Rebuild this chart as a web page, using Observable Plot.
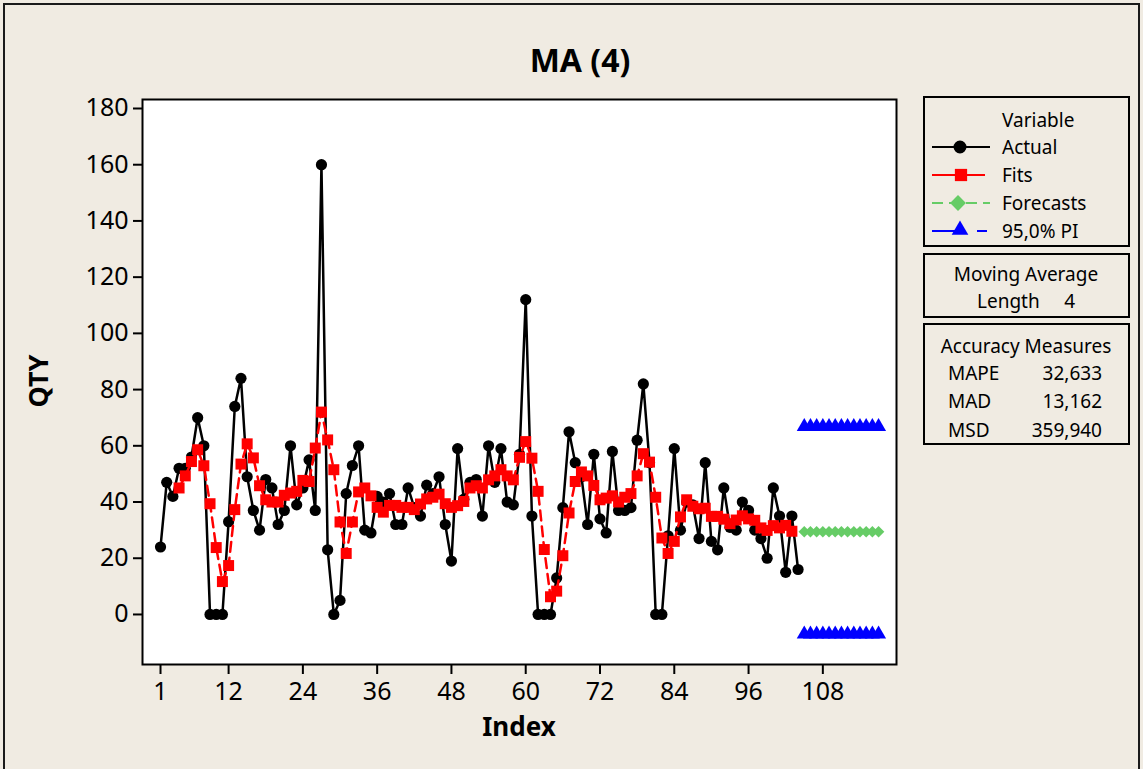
<!DOCTYPE html>
<html>
<head>
<meta charset="utf-8">
<script src="https://cdn.jsdelivr.net/npm/d3@7"></script>
<script src="https://cdn.jsdelivr.net/npm/@observablehq/plot@0.6"></script>
<style>
  html, body { margin: 0; padding: 0; }
  body { width: 1143px; height: 769px; background: #F0EBE2; position: relative; overflow: hidden; font-family: "Noto Sans", "Liberation Sans", sans-serif; }
  #chart { position: absolute; left: 0; top: 0; }
  #overlay { position: absolute; left: 0; top: 0; pointer-events: none; }
</style>
</head>
<body>
<div id="chart"></div>
<svg id="overlay" width="1143" height="769"></svg>
<script>
// ---- data ----
const actual = [
  24, 47, 42, 52, 52, 56, 70, 60, 0, 0,
  0, 33, 74, 84, 49, 37, 30, 48, 45, 32,
  37, 60, 39, 45, 55, 37, 160, 23, 0, 5,
  43, 53, 60, 30, 29, 42, 40, 43, 32, 32,
  45, 38, 35, 46, 43, 49, 32, 19, 59, 41,
  47, 48, 35, 60, 47, 59, 40, 39, 57, 112,
  35, 0, 0, 0, 13, 38, 65, 54, 49, 32,
  57, 34, 29, 58, 37, 37, 38, 62, 82, 54,
  0, 0, 28, 59, 30, 40, 39, 27, 54, 26,
  23, 45, 31, 30, 40, 37, 30, 27, 20, 45,
  35, 15, 35, 16
];
const fitStart = 4;
const fits = [
  45.0, 49.3, 54.4, 58.6, 52.9, 39.4, 23.8, 11.7, 17.4, 37.3,
  53.5, 60.7, 55.7, 45.8, 40.8, 40.0, 40.0, 42.4, 43.2, 43.8,
  47.7, 47.3, 59.2, 72.0, 62.1, 51.5, 32.9, 21.7, 32.9, 43.6,
  45.0, 42.2, 38.1, 36.4, 38.8, 38.8, 38.1, 38.1, 37.3, 39.3,
  41.1, 41.7, 42.8, 39.4, 38.1, 38.7, 40.2, 45.0, 45.8, 45.0,
  47.9, 49.3, 51.5, 49.3, 47.9, 55.9, 61.5, 55.6, 43.8, 23.1,
  6.3, 8.3, 20.9, 36.1, 47.3, 50.7, 49.3, 45.9, 40.8, 41.4,
  42.2, 40.0, 41.7, 43.0, 49.3, 57.2, 54.2, 41.7, 27.2, 21.7,
  26.0, 34.7, 40.8, 38.5, 37.6, 37.8, 34.9, 34.9, 33.9, 32.3,
  33.6, 35.1, 34.0, 33.5, 30.8, 29.9, 31.6, 30.8, 31.7, 29.6
];
const forecastStart = 105;
const forecasts = [29.4, 29.4, 29.4, 29.4, 29.4, 29.4, 29.4, 29.4, 29.4, 29.4, 29.4, 29.4, 29.4];
const upperPI   = [66.8, 66.8, 66.8, 66.8, 66.8, 66.8, 66.8, 66.8, 66.8, 66.8, 66.8, 66.8, 66.8];
const lowerPI   = [-7.0, -7.0, -7.0, -7.0, -7.0, -7.0, -7.0, -7.0, -7.0, -7.0, -7.0, -7.0, -7.0];
const xTicks = [1, 12, 24, 36, 48, 60, 72, 84, 96, 108];
const yTicks = [0, 20, 40, 60, 80, 100, 120, 140, 160, 180];
const legendItems = ["Actual", "Fits", "Forecasts", "95,0% PI"];
const accuracyNames = ["MAPE", "MAD", "MSD"];
const accuracyValues = ["32,633", "13,162", "359,940"];

// ---- tables ----
const actualData = actual.map((v, i) => ({t: i + 1, v}));
const fitData = fits.map((v, i) => ({t: fitStart + i, v}));
const fcData = forecasts.map((v, i) => ({t: forecastStart + i, v}));
const upData = upperPI.map((v, i) => ({t: forecastStart + i, v}));
const loData = lowerPI.map((v, i) => ({t: forecastStart + i, v}));

const GREEN = "#66CC66", BLUE = "#0000FF", RED = "#FF0000";
const FONT = '"Noto Sans", "Liberation Sans", sans-serif';

const chart = Plot.plot({
  width: 1143,
  height: 769,
  marginLeft: 142,
  marginRight: 247,
  marginTop: 99,
  marginBottom: 105,
  style: {background: "transparent", color: "black", fontFamily: FONT, overflow: "visible"},
  x: {domain: [-1.91, 119.9], axis: null},
  y: {domain: [-17.8, 183.2], axis: null},
  marks: [
    Plot.frame({fill: "white", stroke: "none"}),
    Plot.axisX({ticks: xTicks, tickSize: 10, tickPadding: 8, fontSize: 25, strokeWidth: 2, label: null, tickFormat: d => String(d)}),
    Plot.axisY({ticks: yTicks, tickSize: 9, tickPadding: 5, fontSize: 25, strokeWidth: 2, label: null, tickFormat: d => String(d)}),
    Plot.line(actualData, {x: "t", y: "v", stroke: "black", strokeWidth: 2.5}),
    Plot.dot(actualData, {x: "t", y: "v", r: 5.6, fill: "black", symbol: "circle"}),
    Plot.line(fitData, {x: "t", y: "v", stroke: RED, strokeWidth: 2.5, strokeDasharray: "10,6"}),
    Plot.dot(fitData, {x: "t", y: "v", r: 6.2, fill: RED, symbol: "square"}),
    Plot.line(fcData, {x: "t", y: "v", stroke: GREEN, strokeWidth: 2.5, strokeDasharray: "10,6"}),
    Plot.dot(fcData, {x: "t", y: "v", r: 5.2, fill: GREEN, symbol: "diamond2"}),
    Plot.line(upData, {x: "t", y: "v", stroke: BLUE, strokeWidth: 2.5, strokeDasharray: "10,6"}),
    Plot.dot(upData, {x: "t", y: "v", r: 5.6, fill: BLUE, symbol: "triangle"}),
    Plot.line(loData, {x: "t", y: "v", stroke: BLUE, strokeWidth: 2.5, strokeDasharray: "10,6"}),
    Plot.dot(loData, {x: "t", y: "v", r: 5.6, fill: BLUE, symbol: "triangle"}),
    Plot.frame({stroke: "black", strokeWidth: 2})
  ]
});
document.getElementById("chart").appendChild(chart);

// ---- annotations: title, axis titles, legend boxes ----
const svg = d3.select("#overlay").style("font-family", FONT);

// window border
svg.append("rect").attr("x", 4).attr("y", 4).attr("width", 1135).attr("height", 800)
  .attr("fill", "none").attr("stroke", "#1a1a1a").attr("stroke-width", 2);

svg.append("text").text("MA (4)")
  .attr("x", 580).attr("y", 72).attr("text-anchor", "middle")
  .attr("font-size", 32).attr("font-weight", "bold");

svg.append("text").text("Index")
  .attr("x", 519).attr("y", 736).attr("text-anchor", "middle")
  .attr("font-size", 26).attr("font-weight", "bold");

svg.append("text").text("QTY")
  .attr("transform", "translate(48,381) rotate(-90)").attr("text-anchor", "middle")
  .attr("font-size", 27).attr("font-weight", "bold");

const FS = 19;
function box(y, h) {
  svg.append("rect").attr("x", 924).attr("y", y).attr("width", 205).attr("height", h)
    .attr("fill", "none").attr("stroke", "black").attr("stroke-width", 2);
}
box(97, 149);
box(254, 63);
box(324, 120);

// legend box 1
svg.append("text").text("Variable").attr("x", 1002).attr("y", 126.5).attr("font-size", FS);
const rowY = [147, 175, 203, 231];
const base = [154, 182, 210, 238.3];
legendItems.forEach((name, i) => {
  svg.append("text").text(name).attr("x", 1002).attr("y", base[i]).attr("font-size", FS);
});
const sym = (type, size) => d3.symbol().type(type).size(size)();
// Actual
svg.append("line").attr("x1", 932).attr("x2", 990).attr("y1", rowY[0]).attr("y2", rowY[0]).attr("stroke", "black").attr("stroke-width", 2);
svg.append("path").attr("d", sym(d3.symbolCircle, Math.PI * 42)).attr("transform", `translate(960,${rowY[0]})`).attr("fill", "black");
// Fits
svg.append("line").attr("x1", 932).attr("x2", 985).attr("y1", rowY[1]).attr("y2", rowY[1]).attr("stroke", RED).attr("stroke-width", 2);
svg.append("path").attr("d", sym(d3.symbolSquare, 150)).attr("transform", `translate(961,${rowY[1]})`).attr("fill", RED);
// Forecasts
svg.append("line").attr("x1", 932).attr("x2", 990).attr("y1", rowY[2]).attr("y2", rowY[2]).attr("stroke", GREEN).attr("stroke-width", 2).attr("stroke-dasharray", "11,6");
svg.append("path").attr("d", sym(d3.symbolDiamond2, 160)).attr("transform", `translate(958,${rowY[2]})`).attr("fill", GREEN);
// PI
svg.append("line").attr("x1", 932).attr("x2", 958).attr("y1", rowY[3]).attr("y2", rowY[3]).attr("stroke", BLUE).attr("stroke-width", 2);
svg.append("line").attr("x1", 977).attr("x2", 987).attr("y1", rowY[3]).attr("y2", rowY[3]).attr("stroke", BLUE).attr("stroke-width", 2);
svg.append("path").attr("d", sym(d3.symbolTriangle, 120)).attr("transform", `translate(960,${rowY[3] - 1})`).attr("fill", BLUE);

// box 2
svg.append("text").text("Moving Average").attr("x", 1026).attr("y", 280.5).attr("text-anchor", "middle").attr("font-size", FS);
svg.append("text").text("Length").attr("x", 977).attr("y", 308).attr("font-size", FS);
svg.append("text").text("4").attr("x", 1075).attr("y", 308).attr("text-anchor", "end").attr("font-size", FS);

// box 3
svg.append("text").text("Accuracy Measures").attr("x", 1026).attr("y", 353).attr("text-anchor", "middle").attr("font-size", FS);
const accY = [380, 408.3, 436.7];
accuracyNames.forEach((n, i) => {
  svg.append("text").text(n).attr("x", 948).attr("y", accY[i]).attr("font-size", FS);
  svg.append("text").text(accuracyValues[i]).attr("x", 1102).attr("y", accY[i]).attr("text-anchor", "end").attr("font-size", FS);
});
</script>
</body>
</html>
